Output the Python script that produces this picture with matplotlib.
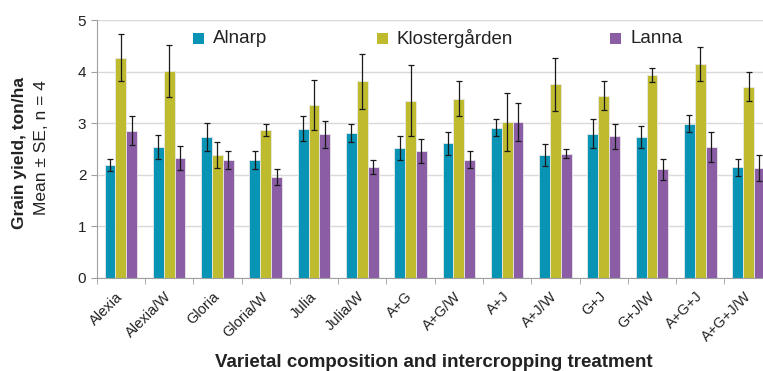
import numpy as np
import matplotlib.pyplot as plt
from matplotlib.patches import Rectangle

plt.rcParams['font.family'] = ['Liberation Sans', 'DejaVu Sans']

treatments = ['Alexia', 'Alexia/W', 'Gloria', 'Gloria/W', 'Julia', 'Julia/W', 'A+G',
              'A+G/W', 'A+J', 'A+J/W', 'G+J', 'G+J/W', 'A+G+J', 'A+G+J/W']

# mean grain yield (ton/ha) per site
alnarp = [2.19, 2.53, 2.73, 2.28, 2.89, 2.81, 2.52, 2.61, 2.91, 2.38, 2.79, 2.73, 2.99, 2.14]
kloster = [4.27, 4.01, 2.38, 2.86, 3.35, 3.81, 3.43, 3.47, 3.02, 3.75, 3.53, 3.93, 4.15, 3.71]
lanna = [2.85, 2.32, 2.28, 1.95, 2.78, 2.15, 2.46, 2.29, 3.02, 2.41, 2.74, 2.10, 2.53, 2.13]

# standard errors
alnarp_se = [0.11, 0.23, 0.27, 0.17, 0.24, 0.17, 0.23, 0.22, 0.16, 0.22, 0.28, 0.21, 0.17, 0.16]
kloster_se = [0.45, 0.51, 0.26, 0.12, 0.49, 0.53, 0.69, 0.34, 0.57, 0.52, 0.28, 0.13, 0.33, 0.29]
lanna_se = [0.28, 0.23, 0.18, 0.16, 0.27, 0.14, 0.23, 0.16, 0.37, 0.09, 0.24, 0.20, 0.29, 0.26]

sites = ['Alnarp', 'Klostergården', 'Lanna']
colors = ['#0993b4', '#bebb2f', '#8a5da5']

W, H = 763, 371
fig = plt.figure(figsize=(W / 100, H / 100), dpi=100)
ax = fig.add_axes([0.1267, 0.2515, 0.886, 0.6945])

x = np.arange(len(treatments))
w = 0.225
for i, (vals, errs, c) in enumerate(zip([alnarp, kloster, lanna],
                                        [alnarp_se, kloster_se, lanna_se], colors)):
    ax.bar(x + (i - 1) * w, vals, width=w, color=c, edgecolor='#e8e8e8', linewidth=0.6, zorder=2)
    ax.errorbar(x + (i - 1) * w, vals, yerr=errs, fmt='none', ecolor='#1a1a1a',
                elinewidth=0.9, capsize=2, capthick=0.9, zorder=3)

ax.set_xlim(-0.5, len(treatments) - 0.5)
ax.set_ylim(0, 5)
ax.set_yticks(range(6))
ax.yaxis.grid(True, color='#d9d9d9', linewidth=1, zorder=0)
ax.set_axisbelow(True)

ax.set_xticks(x)
ax.set_xticklabels(treatments, rotation=45, ha='right', va='center', rotation_mode='anchor',
                   fontsize=10.5, color='#222222')
ax.set_xticks(np.arange(-0.5, len(treatments)), minor=True)
ax.tick_params(axis='x', which='major', length=0, pad=12)
ax.tick_params(axis='x', which='minor', length=4, color='#a0a0a0')
ax.tick_params(axis='y', length=4, color='#a0a0a0', labelsize=11, labelcolor='#222222')

for s in ['top', 'right']:
    ax.spines[s].set_visible(False)
ax.spines['left'].set_color('#a0a0a0')
ax.spines['bottom'].set_color('#a0a0a0')

fig.text(434 / W, 1 - 367 / H, 'Varietal composition and intercropping treatment',
         fontsize=13.5, fontweight='bold', color='#222222', ha='center', va='baseline')
fig.text(20 / W, 1 - 153 / H, 'Grain yield, ton/ha', rotation=90, fontsize=12.5,
         fontweight='bold', color='#222222', ha='center', va='center')
fig.text(42 / W, 1 - 148 / H, 'Mean ± SE, n = 4', rotation=90, fontsize=12.5,
         color='#222222', ha='center', va='center')

# legend entries placed as in the reference
legend_x = [193, 377, 610]
for lx, name, c in zip(legend_x, sites, colors):
    fig.patches.append(Rectangle((lx / W, 1 - 43.5 / H), 11 / W, 11 / H,
                                 transform=fig.transFigure, facecolor=c, edgecolor='none'))
    fig.text((lx + 20) / W, 1 - 38.5 / H, name, fontsize=13.5, color='#222222',
             ha='left', va='center')

plt.savefig('out.png', dpi=100)
